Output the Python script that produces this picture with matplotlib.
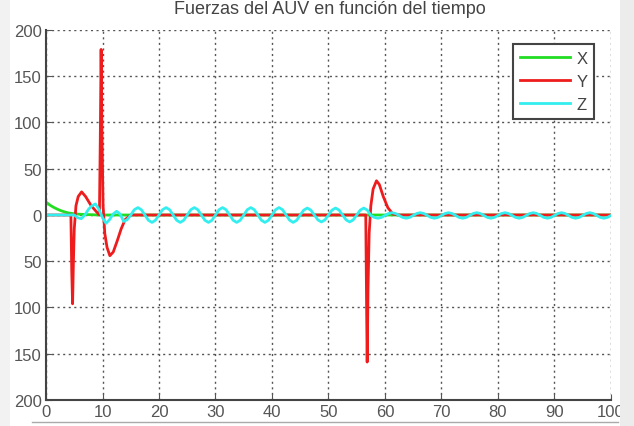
import numpy as np
import matplotlib
matplotlib.use("Agg")
from matplotlib import pyplot as plt
from matplotlib.patches import Rectangle
from matplotlib.lines import Line2D

# fuerza X (verde)
t_x = [0, 0.5, 1, 1.5, 2, 2.5, 3, 3.5, 4, 5, 6, 7, 8, 9, 10, 100]
f_x = [14, 11.5, 9.5, 7.8, 6.3, 5, 3.9, 3, 2.2, 1.3, 0.8, 0.5, 0.3, 0.1, 0, 0]

# fuerza Y (rojo)
t_y = [0, 4.4, 4.55, 4.7, 4.85, 5.0, 5.3, 5.7, 6.3, 7.0, 8.0, 9.0, 9.45, 9.6,
       9.75, 9.9, 10.1, 10.4, 10.8, 11.3, 11.9, 12.6, 13.3, 14.0, 15.0, 56.6,
       56.75, 56.85, 57.0, 57.2, 57.5, 57.9, 58.5, 59.0, 59.7, 60.5, 61.4,
       62.5, 100]
f_y = [0, 0, -60, -96, -50, -15, 10, 20, 25, 20, 10, 3, 0, 80,
       179, 90, 10, -20, -35, -44, -40, -28, -15, -5, 0, 0,
       -100, -159, -80, -20, 10, 28, 37, 33, 20, 8, 1,
       0, 0]

# fuerza Z (cian), muestreada cada 0.625 s
paso_z = 0.625
f_z = [0, 0, 0, 0, 0, 0, 0, 0,
       0, -3, -4, 0, 6, 10, 12, 6,
       -3, -9, -5, 1, 4, 1, -7, -5,
       0, 5.7, 8, 5.7, 0, -5.7, -8, -5.7,
       0, 5.7, 8, 5.7, 0, -5.7, -8, -5.7,
       0, 5.7, 8, 5.7, 0, -5.7, -8, -5.7,
       0, 5.7, 8, 5.7, 0, -5.7, -8, -5.7,
       0, 5.7, 8, 5.7, 0, -5.7, -8, -5.7,
       0, 5.7, 8, 5.7, 0, -5.7, -8, -5.7,
       0, 5.3, 7.5, 5.3, 0, -5.3, -7.5, -5.3,
       0, 5.3, 7.5, 5.3, 0, -5.3, -7.5, -5.3,
       0, 5.3, 7.5, 5.3, -0.5, -2.6, -3.5, -2.6,
       -0.5, 1.6, 2.5, 1.6, -0.5, -2.6, -3.5, -2.6,
       -0.5, 1.6, 2.5, 1.6, -0.5, -2.6, -3.5, -2.6,
       -0.5, 1.6, 2.5, 1.6, -0.5, -2.6, -3.5, -2.6,
       -0.5, 1.6, 2.5, 1.6, -0.5, -2.6, -3.5, -2.6,
       -0.5, 1.6, 2.5, 1.6, -0.5, -2.6, -3.5, -2.6,
       -0.5, 1.6, 2.5, 1.6, -0.5, -2.6, -3.5, -2.6,
       -0.5, 1.6, 2.5, 1.6, -0.5, -2.6, -3.5, -2.6,
       -0.5, 1.6, 2.5, 1.6, -0.5, -2.6, -3.5, -2.6,
       -0.5]
t_z = np.arange(len(f_z)) * paso_z

x_ticks = list(range(0, 101, 10))
y_ticks = list(range(-200, 201, 50))
# en la imagen original el signo menos queda recortado
y_labels = ["200", "150", "100", "50", "0", "50", "100", "150", "200"]
titulo = "Fuerzas del AUV en función del tiempo"

plt.rcParams['font.family'] = ['Liberation Sans', 'DejaVu Sans']

fig = plt.figure(figsize=(6.34, 4.27), dpi=100)
# bordes grises de la captura
fig.patches.append(Rectangle((0.978, 0), 0.022, 1, transform=fig.transFigure,
                             facecolor='#ececec', edgecolor='none', zorder=0))
fig.patches.append(Rectangle((0, 0), 0.016, 1, transform=fig.transFigure,
                             facecolor='#f2f2f2', edgecolor='none', zorder=0))
fig.lines.append(Line2D([0.05, 0.975], [1 - 423 / 427] * 2,
                        transform=fig.transFigure, color='#aaaaaa', lw=1))

ax = fig.add_axes([0.0726, 0.0609, 0.891, 0.8665])

ax.plot(t_x, f_x, color='#22dd22', lw=2, label='X')
ax.plot(t_y, f_y, color='#ee1c1c', lw=2, label='Y')
ax.plot(t_z, f_z, color='#33eeee', lw=2, label='Z')

ax.set_xlim(0, 100)
ax.set_ylim(-200, 200)
ax.set_xticks(x_ticks)
ax.set_yticks(y_ticks)
ax.set_yticklabels(y_labels[::-1])
ax.tick_params(direction='in', length=4, labelsize=12, colors='#555555', pad=3)
ax.grid(True, linestyle=(0, (1.5, 2.5)), color='#555555', lw=1)
for s in ['top', 'right']:
    ax.spines[s].set_visible(False)
for s in ['left', 'bottom']:
    ax.spines[s].set_linewidth(1.5)
    ax.spines[s].set_color('#444444')

leg = ax.legend(loc='upper right', bbox_to_anchor=(0.985, 0.985), fontsize=12,
                fancybox=False, framealpha=1, edgecolor='#444444',
                handlelength=3.0, borderpad=0.4, labelspacing=0.5,
                handletextpad=0.4)
leg.get_frame().set_linewidth(1.5)
for txt in leg.get_texts():
    txt.set_color('#444444')

fig.text(0.52, 1 - 9 / 427, titulo, ha='center', va='center', fontsize=13,
         color='#444444')

fig.savefig("out.png", dpi=100)
